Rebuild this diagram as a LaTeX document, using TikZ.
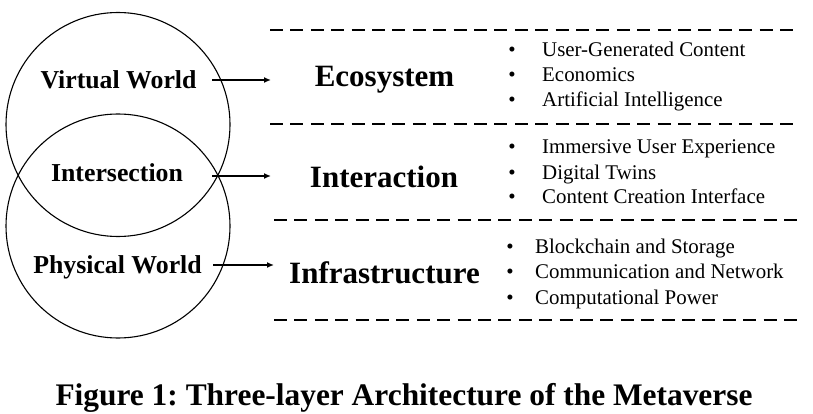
\documentclass[tikz,border=0pt]{standalone}
\usepackage{fontspec}
\setmainfont{Liberation Serif}
\usetikzlibrary{arrows.meta}
\begin{document}
\frenchspacing
\begin{tikzpicture}[x=1pt,y=-1pt,
  world/.style={circle,draw,line width=1.1pt,minimum size=224pt,inner sep=0pt},
  wlabel/.style={font=\fontsize{25.8}{28}\selectfont\bfseries,anchor=base,inner sep=0pt},
  layer/.style={font=\fontsize{31}{34}\selectfont\bfseries,anchor=base,inner sep=0pt},
  item/.style={font=\fontsize{20.9}{24}\selectfont,anchor=base west,inner sep=0pt},
  bul/.style={font=\fontsize{21}{24}\selectfont,anchor=base,inner sep=0pt},
  arr/.style={line width=1.8pt,-{Latex[length=7pt,width=6pt]}},
  sep/.style={line width=2.6pt,dash pattern=on 13pt off 7.4pt}]
\useasboundingbox (0,0) rectangle (813,414);
% circles
\node[world] (top) at (118,124.5) {};
\node[world] (bot) at (118,226) {};
% world labels
\node[wlabel] (vw) at (118.5,89) {Virtual World};
\node[wlabel] (is) at (117,182) {Intersection};
\node[wlabel] (pw) at (117.5,273) {Physical World};
% arrow coordinates
\coordinate (s1) at (212,80);  \coordinate (e1) at (271,80);
\coordinate (s2) at (212,176); \coordinate (e2) at (271,176);
\coordinate (s3) at (213,265); \coordinate (e3) at (274,265);
\draw[arr] (s1) -- (e1);
\draw[arr] (s2) -- (e2);
\draw[arr] (s3) -- (e3);
% dashed separators
\coordinate (d1a) at (270,30);  \coordinate (d1b) at (800,30);
\coordinate (d2a) at (270,124); \coordinate (d2b) at (800,124);
\coordinate (d3a) at (274,220); \coordinate (d3b) at (800,220);
\coordinate (d4a) at (274,320); \coordinate (d4b) at (800,320);
\draw[sep] (d1a) -- (d1b);
\draw[sep] (d2a) -- (d2b);
\draw[sep] (d3a) -- (d3b);
\draw[sep] (d4a) -- (d4b);
% layers
\node[layer] (eco) at (384.5,87) {Ecosystem};
\node[layer] (int) at (384,188) {Interaction};
\node[layer] (inf) at (384.5,283) {Infrastructure};
% items
\node[bul] (b11) at (512,57) {•};  \node[item] (t11) at (542,57) {User-Generated Content};
\node[bul] (b12) at (512,82) {•};  \node[item] (t12) at (542,82) {Economics};
\node[bul] (b13) at (512,107) {•}; \node[item] (t13) at (542,107) {Artificial Intelligence};
\node[bul] (b21) at (512,154) {•}; \node[item] (t21) at (542,154) {Immersive User Experience};
\node[bul] (b22) at (512,179) {•}; \node[item] (t22) at (542,179) {Digital Twins};
\node[bul] (b23) at (512,204) {•}; \node[item] (t23) at (542,204) {Content Creation Interface};
\node[bul] (b31) at (510,253) {•}; \node[item] (t31) at (535,253) {Blockchain and Storage};
\node[bul] (b32) at (510,278.5) {•}; \node[item] (t32) at (535,278.5) {Communication and Network};
\node[bul] (b33) at (510,304) {•}; \node[item] (t33) at (535,304) {Computational Power};
% caption
\node[font=\fontsize{31.4}{34}\selectfont\bfseries,anchor=base,inner sep=0pt] (cap) at (404,405) {Figure 1: Three-layer Architecture of the Metaverse};
\end{tikzpicture}
\end{document}
